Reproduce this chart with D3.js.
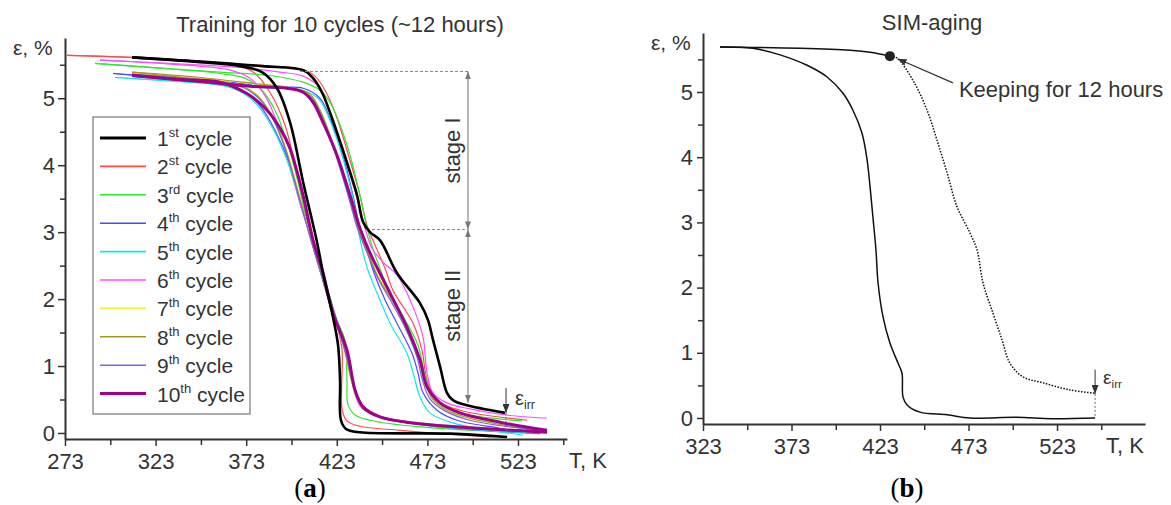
<!DOCTYPE html>
<html><head><meta charset="utf-8">
<script src="https://cdn.jsdelivr.net/npm/d3@7"></script>
<style>
body{margin:0;background:#fff}
svg{display:block}
text{font-family:"Liberation Sans",Arial,sans-serif;fill:#333}
</style>
</head><body>
<svg id="c" width="1171" height="505"></svg>
<script>
// ---------------- DATA: panel (a) ----------------
const cycleNums = ["1","2","3","4","5","6","7","8","9","10"];
const cycleSups = ["st","st","rd","th","th","th","th","th","th","th"];
const cycleColors = ["#000000","#ff4a4a","#2ee82e","#4a4aff","#18e6e6","#ff4dff","#f2f230","#a39a1e","#6c6cd6","#a0008c"];
const cycleWidths = [2.6,1.2,1.2,1.2,1.2,1.2,1.2,1.2,1.2,3];

const aXMajor = [273,323,373,423,473,523];
const aXMinor = [298,348,398,448,498,548];
const aYMajor = [0,1,2,3,4,5];
const aYMinor = [0.5,1.5,2.5,3.5,4.5,5.5];

const c1Left = [[310.0,5.61],[347.5,5.54],[369.6,5.48],[381.7,5.39],[390.0,5.15],[397.2,4.64],[404.4,3.75],[412.1,2.85],[415.4,2.39],[420.9,1.73],[423.7,1.31],[424.8,0.79],[425.3,0.19],[428.1,0.06],[435.8,0.01],[485.5,-0.01],[517.0,-0.06]];
const c1Right = [[310.0,5.61],[347.5,5.55],[381.7,5.48],[404.4,5.42],[409.9,5.30],[414.8,5.09],[419.2,4.79],[428.6,4.04],[434.2,3.55],[437.5,3.15],[441.3,3.00],[446.8,2.88],[456.2,2.39],[468.9,1.94],[473.3,1.69],[476.1,1.39],[480.0,0.99],[483.8,0.60],[487.1,0.49],[493.8,0.42],[515.8,0.30]];
const c2Left = [[274.1,5.64],[308.9,5.61],[347.5,5.55],[369.6,5.48],[377.9,5.37],[386.1,5.09],[394.4,4.60],[401.6,3.78],[408.2,2.96],[413.7,2.43],[419.2,1.91],[423.7,1.54],[425.9,1.24],[426.0,0.34],[428.6,0.18],[435.8,0.10],[457.9,0.04],[507.5,-0.06]];
const c2Right = [[274.1,5.64],[308.9,5.61],[347.5,5.55],[381.7,5.49],[404.4,5.43],[411.0,5.33],[416.5,5.12],[422.0,4.79],[430.3,4.07],[435.8,3.55],[439.7,3.10],[444.1,2.81],[449.6,2.46],[454.0,2.13],[460.7,1.84],[465.1,1.64],[470.0,1.24],[472.8,0.79],[478.3,0.49],[491.0,0.34],[528.0,0.19]];
const c3Left = [[289.6,5.52],[325.4,5.45],[358.5,5.37],[372.3,5.30],[381.7,5.12],[388.9,4.82],[396.1,4.30],[402.7,3.63],[409.3,2.88],[416.5,2.28],[423.1,1.69],[427.5,1.39],[428.6,0.79],[429.2,0.42],[433.1,0.27],[441.3,0.19],[468.9,0.09],[529.6,0.00]];
const c3Right = [[289.6,5.52],[325.4,5.45],[358.5,5.39],[386.1,5.34],[404.4,5.24],[413.7,5.12],[419.2,4.94],[424.8,4.60],[430.3,4.15],[435.8,3.55],[439.7,3.06],[444.1,2.66],[452.4,2.09],[460.7,1.69],[467.8,1.31],[471.7,0.87],[475.5,0.57],[485.5,0.34],[525.2,0.18]];
const c4Left = [[299.5,5.37],[336.5,5.28],[361.3,5.21],[372.3,5.09],[381.7,4.85],[388.9,4.52],[397.2,4.00],[403.8,3.40],[409.9,2.88],[416.5,2.28],[422.0,1.76],[427.5,1.31],[431.4,0.87],[434.2,0.57],[438.6,0.37],[449.6,0.22],[480.0,0.09],[535.1,-0.01]];
const c4Right = [[299.5,5.37],[336.5,5.30],[369.6,5.22],[386.1,5.16],[404.4,5.15],[413.7,5.00],[419.2,4.70],[426.4,4.15],[431.9,3.55],[435.8,3.06],[439.7,2.73],[443.0,2.43],[449.6,1.99],[456.2,1.64],[464.5,1.19],[467.8,0.90],[470.6,0.60],[478.3,0.34],[489.3,0.19],[513.1,0.07],[529.6,0.00]];
const c5Left = [[300.6,5.31],[336.5,5.25],[361.3,5.18],[372.3,5.06],[380.6,4.85],[388.3,4.52],[396.1,4.03],[402.7,3.43],[409.3,2.88],[415.9,2.28],[421.5,1.76],[427.0,1.31],[430.8,0.87],[433.6,0.57],[438.0,0.37],[449.6,0.22],[480.0,0.09],[535.1,0.00]];
const c5Right = [[300.6,5.31],[336.5,5.25],[369.6,5.19],[386.1,5.15],[404.4,5.12],[413.7,4.97],[419.2,4.67],[426.4,4.10],[431.9,3.51],[434.7,3.06],[436.9,2.76],[440.2,2.43],[446.8,1.99],[452.4,1.64],[461.7,1.19],[465.1,0.90],[468.9,0.54],[474.4,0.30],[487.1,0.15],[507.5,0.04],[525.8,-0.03]];
const c6Left = [[292.3,5.57],[331.0,5.51],[364.1,5.42],[375.1,5.30],[383.4,5.04],[390.6,4.60],[397.2,4.00],[403.8,3.33],[409.9,2.81],[416.5,2.21],[422.0,1.76],[426.4,1.39],[430.3,0.94],[433.1,0.57],[436.9,0.37],[446.8,0.25],[474.4,0.13],[539.0,0.01]];
const c6Right = [[292.3,5.57],[331.0,5.52],[369.6,5.46],[391.7,5.39],[404.4,5.33],[413.7,5.15],[420.9,4.64],[428.6,4.00],[434.2,3.51],[438.6,3.06],[442.4,2.76],[448.5,2.55],[456.2,2.36],[465.1,1.88],[470.6,1.43],[472.8,0.90],[476.1,0.60],[483.8,0.45],[496.5,0.36],[515.8,0.27],[539.0,0.22]];
const c7Left = [[310.0,5.37],[347.5,5.28],[369.6,5.19],[379.5,5.04],[387.2,4.75],[394.4,4.30],[401.6,3.63],[408.2,2.96],[414.8,2.36],[420.9,1.79],[426.4,1.31],[430.3,0.87],[433.6,0.54],[438.0,0.36],[449.6,0.22],[480.0,0.12],[537.9,0.01]];
const c7Right = [[310.0,5.37],[347.5,5.30],[380.6,5.21],[397.2,5.15],[408.2,5.04],[414.8,4.75],[422.0,4.22],[429.2,3.58],[434.7,3.06],[440.2,2.70],[445.7,2.36],[454.0,1.99],[460.7,1.64],[467.3,1.24],[471.1,0.87],[474.4,0.57],[482.7,0.37],[496.5,0.22],[535.1,0.04]];
const c8Left = [[310.0,5.39],[347.5,5.28],[369.6,5.19],[379.5,5.03],[387.2,4.73],[394.4,4.27],[401.6,3.60],[408.2,2.94],[414.8,2.34],[420.9,1.78],[427.0,1.28],[430.8,0.82],[434.2,0.52],[438.6,0.34],[449.6,0.21],[480.0,0.10],[537.9,0.01]];
const c8Right = [[310.0,5.39],[347.5,5.31],[380.6,5.21],[397.2,5.16],[408.2,5.06],[414.8,4.76],[422.0,4.22],[429.2,3.58],[434.7,3.06],[440.2,2.69],[445.7,2.33],[454.0,1.96],[461.2,1.58],[467.8,1.16],[471.7,0.79],[475.5,0.52],[483.8,0.34],[496.5,0.22],[535.1,0.03]];
const c9Left = [[310.0,5.36],[347.5,5.27],[369.6,5.18],[379.5,5.01],[387.2,4.72],[394.4,4.25],[401.6,3.58],[408.2,2.93],[414.8,2.33],[420.9,1.78],[427.0,1.27],[431.4,0.79],[434.2,0.51],[438.6,0.34],[449.6,0.21],[480.0,0.10],[539.0,0.01]];
const c9Right = [[310.0,5.36],[347.5,5.27],[380.6,5.18],[397.2,5.15],[408.2,5.03],[414.8,4.72],[422.0,4.19],[429.2,3.55],[434.7,3.03],[440.2,2.66],[445.7,2.31],[453.5,1.94],[460.7,1.57],[467.3,1.13],[470.6,0.76],[474.4,0.51],[482.7,0.33],[496.5,0.19],[537.9,0.03]];
const c10Left = [[310.0,5.34],[336.5,5.28],[358.5,5.24],[373.4,5.07],[384.5,4.82],[391.7,4.55],[397.2,4.25],[404.4,3.55],[409.9,2.88],[415.4,2.39],[420.9,1.79],[428.6,1.24],[433.1,0.64],[437.5,0.39],[446.8,0.24],[465.1,0.15],[491.0,0.09],[539.0,0.01]];
const c10Right = [[310.0,5.34],[347.5,5.25],[375.1,5.18],[395.5,5.15],[404.4,5.09],[409.9,4.94],[415.4,4.64],[423.1,4.15],[430.3,3.55],[435.8,3.06],[441.3,2.69],[452.4,2.09],[461.7,1.58],[468.9,1.09],[472.8,0.69],[480.0,0.45],[491.0,0.30],[513.1,0.16],[539.0,0.04]];

// stage annotation values (panel a)
const stageT = 495.4;
const stageLevels = [5.40, 3.04, 0.45];
const stageDashStartT = [402.7, 442.4];
const aIrrT = 516.4;
const aIrrLevels = [0.67, 0.30, 0.0];

// ---------------- DATA: panel (b) ----------------
const bXMajor = [323,373,423,473,523];
const bXMinor = [348,398,448,498,548];
const bYMajor = [0,1,2,3,4,5];
const bYMinor = [0.5,1.5,2.5,3.5,4.5,5.5];
const bSolidMain = [[332.6,5.69],[351.2,5.67],[366.5,5.57],[381.8,5.41],[393.1,5.23],[402.1,4.98],[407.7,4.72],[412.8,4.37],[415.7,3.96],[417.4,3.54],[419.0,3.08],[420.7,2.58],[421.9,2.07],[424.7,1.55],[428.6,1.15],[433.2,0.84],[435.4,0.69],[436.0,0.32],[438.3,0.20],[445.6,0.09],[460.9,0.05],[473.8,0.0],[500.0,0.01],[520.0,-0.01],[544.5,0.0]];
const bSolidUpper = [[332.6,5.69],[377.8,5.67],[406.1,5.64],[417.4,5.61],[428.6,5.55]];
const bDotted = [[428.6,5.55],[432.6,5.52],[441.6,5.18],[449.6,4.72],[455.2,4.26],[460.9,3.76],[466.5,3.24],[473.8,2.84],[477.8,2.58],[481.2,2.07],[486.8,1.61],[491.9,1.20],[496.4,0.84],[503.8,0.63],[515.1,0.54],[530.3,0.43],[544.5,0.38]];
const bDot = [428.6, 5.55];
const bKeepArrow = [[464.2,5.14],[432.9,5.51]];
const bIrrT = 544.5;
const bIrrLevels = [0.74, 0.37, 0.0];

// ---------------- DRAW ----------------
const svg = d3.select("#c");
const defs = svg.append("defs");
function marker(id, color, len, wid){
  defs.append("marker").attr("id",id).attr("viewBox","0 0 10 10")
    .attr("refX",10).attr("refY",5).attr("markerWidth",len).attr("markerHeight",wid)
    .attr("markerUnits","userSpaceOnUse").attr("orient","auto-start-reverse")
    .attr("preserveAspectRatio","none")
    .append("path").attr("d","M0,0L10,5L0,10Z").attr("fill",color);
}
marker("arG","#777",8,6);
marker("arK","#333",9,7);

const xa = d3.scaleLinear().domain([273,550]).range([65,566.9]);
const ya = d3.scaleLinear().domain([-0.09,5.9]).range([439,38]);
const xb = d3.scaleLinear().domain([323,572.7]).range([703,1145]);
const yb = d3.scaleLinear().domain([-0.092,5.905]).range([424,33]);

function axes(x, y, xMaj, xMin, yMaj, yMin, yTick, yPad){
  const gx = svg.append("g").attr("transform",`translate(0,${y.range()[0]})`)
    .call(d3.axisBottom(x).tickValues(xMaj).tickSizeInner(7).tickSizeOuter(0).tickPadding(7).tickFormat(d3.format("d")));
  svg.append("g").attr("transform",`translate(0,${y.range()[0]})`)
    .call(d3.axisBottom(x).tickValues(xMin).tickSize(6).tickFormat(""))
    .call(g=>g.select(".domain").remove());
  const gy = svg.append("g").attr("transform",`translate(${x.range()[0]},0)`)
    .call(d3.axisLeft(y).tickValues(yMaj).tickSizeInner(yTick).tickSizeOuter(0).tickPadding(yPad).tickFormat(d3.format("d")));
  svg.append("g").attr("transform",`translate(${x.range()[0]},0)`)
    .call(d3.axisLeft(y).tickValues(yMin).tickSize(5).tickFormat(""))
    .call(g=>g.select(".domain").remove());
  svg.selectAll(".tick line").attr("stroke","#333").attr("stroke-width",1.5);
  [gx,gy].forEach(g=>{
    g.select(".domain").attr("stroke","#333").attr("stroke-width",2);
    g.selectAll("text").attr("font-size",22).attr("font-family","'Liberation Sans',Arial,sans-serif").attr("fill","#333");
  });
}
axes(xa, ya, aXMajor, aXMinor, aYMajor, aYMinor, 7, 3);
axes(xb, yb, bXMajor, bXMinor, bYMajor, bYMinor, 6, 4);

// axis titles
svg.append("text").attr("x",13).attr("y",55).attr("font-size",21).text("ε, %");
svg.append("text").attr("x",569).attr("y",468).attr("font-size",22).text("T, K");
svg.append("text").attr("x",651).attr("y",50).attr("font-size",21).text("ε, %");
svg.append("text").attr("x",1106).attr("y",453).attr("font-size",22).text("T, K");

// titles
svg.append("text").attr("x",340).attr("y",32).attr("text-anchor","middle").attr("font-size",22).text("Training for 10 cycles (~12 hours)");
svg.append("text").attr("x",932).attr("y",30).attr("text-anchor","middle").attr("font-size",22).text("SIM-aging");

// panel labels
function panelLabel(x, letter){
  const t = svg.append("text").attr("x",x).attr("y",497).attr("text-anchor","middle")
    .attr("font-size",27).style("font-family","'Liberation Serif','Times New Roman',serif").style("fill","#000");
  t.append("tspan").text("(");
  t.append("tspan").attr("font-weight","bold").text(letter);
  t.append("tspan").text(")");
}
panelLabel(310,"a");
panelLabel(907,"b");

// ---- panel (a) curves ----
const lineA = d3.line().x(d=>xa(d[0])).y(d=>ya(d[1])).curve(d3.curveCatmullRom.alpha(0.5));
const leftSets = [c1Left,c2Left,c3Left,c4Left,c5Left,c6Left,c7Left,c8Left,c9Left,c10Left];
const rightSets = [c1Right,c2Right,c3Right,c4Right,c5Right,c6Right,c7Right,c8Right,c9Right,c10Right];
const cycles = cycleNums.map((n,i)=>({num:n, sup:cycleSups[i], color:cycleColors[i], width:cycleWidths[i], left:leftSets[i], right:rightSets[i]}));
const drawOrder = [1,2,3,4,5,6,7,8,9,0];
const gCurves = svg.append("g");
drawOrder.forEach(i=>{
  const c = cycles[i];
  [c.left, c.right].forEach(s=>{
    gCurves.append("path").attr("d",lineA(s)).attr("fill","none")
      .attr("stroke",c.color).attr("stroke-width",c.width).attr("stroke-linejoin","round");
  });
});

// stage annotations
const sx = xa(stageT);
stageDashStartT.forEach((t,i)=>{
  svg.append("line").attr("x1",xa(t)).attr("x2",sx).attr("y1",ya(stageLevels[i])).attr("y2",ya(stageLevels[i]))
    .attr("stroke","#888").attr("stroke-width",1).attr("stroke-dasharray","3,2");
});
for(let i=0;i<2;i++){
  svg.append("line").attr("x1",sx).attr("x2",sx).attr("y1",ya(stageLevels[i])).attr("y2",ya(stageLevels[i+1]))
    .attr("stroke","#888").attr("stroke-width",1.2)
    .attr("marker-start","url(#arG)").attr("marker-end","url(#arG)");
}
svg.append("text").attr("transform",`translate(${sx-8},${(ya(stageLevels[0])+ya(stageLevels[1]))/2}) rotate(-90)`)
  .attr("text-anchor","middle").attr("font-size",22).text("stage I");
svg.append("text").attr("transform",`translate(${sx-8},${ya(1.9)}) rotate(-90)`)
  .attr("text-anchor","middle").attr("font-size",22).text("stage II");

// epsilon irr (a)
const ax = xa(aIrrT);
svg.append("line").attr("x1",ax).attr("x2",ax).attr("y1",ya(aIrrLevels[0])).attr("y2",ya(aIrrLevels[1]))
  .attr("stroke","#333").attr("stroke-width",1).attr("marker-end","url(#arK)");
svg.append("line").attr("x1",ax).attr("x2",ax).attr("y1",ya(aIrrLevels[1])).attr("y2",ya(aIrrLevels[2]))
  .attr("stroke","#666").attr("stroke-width",1).attr("stroke-dasharray","2,2");
function epsIrr(x, y, fs){
  const t = svg.append("text").attr("x",x).attr("y",y).attr("font-size",fs);
  t.append("tspan").text("ε");
  t.append("tspan").attr("font-size",fs*0.62).attr("dy",4).text("irr");
}
epsIrr(ax+9, ya(aIrrLevels[0])+17, 20);

// legend
const leg = svg.append("g");
leg.append("rect").attr("x",93).attr("y",117).attr("width",157).attr("height",297)
  .attr("fill","#fff").attr("stroke","#777").attr("stroke-width",1.2);
cycles.forEach((c,i)=>{
  const cy = 138 + i*28.4;
  leg.append("line").attr("x1",100).attr("x2",146).attr("y1",cy).attr("y2",cy)
    .attr("stroke",c.color).attr("stroke-width",c.width===1.2?1.6:3);
  const t = leg.append("text").attr("x",157).attr("y",cy+8).attr("font-size",21);
  t.append("tspan").text(c.num);
  t.append("tspan").attr("font-size",13).attr("dy",-9).text(c.sup);
  t.append("tspan").attr("dy",9).text(" cycle");
});

// ---- panel (b) ----
const lineB = d3.line().x(d=>xb(d[0])).y(d=>yb(d[1])).curve(d3.curveCatmullRom.alpha(0.5));
svg.append("path").attr("d",lineB(bSolidMain)).attr("fill","none").attr("stroke","#111").attr("stroke-width",1.5);
svg.append("path").attr("d",lineB(bSolidUpper)).attr("fill","none").attr("stroke","#111").attr("stroke-width",1.5);
svg.append("path").attr("d",lineB(bDotted)).attr("fill","none").attr("stroke","#111").attr("stroke-width",1.5).attr("stroke-dasharray","1.5,1.5");
svg.append("circle").attr("cx",xb(bDot[0])).attr("cy",yb(bDot[1])).attr("r",5).attr("fill","#222");
svg.append("line").attr("x1",xb(bKeepArrow[0][0])).attr("y1",yb(bKeepArrow[0][1]))
  .attr("x2",xb(bKeepArrow[1][0])).attr("y2",yb(bKeepArrow[1][1]))
  .attr("stroke","#333").attr("stroke-width",1.3).attr("marker-end","url(#arK)");
svg.append("text").attr("x",xb(bKeepArrow[0][0])+6).attr("y",97).attr("font-size",22).text("Keeping for 12 hours");

const bx = xb(bIrrT);
svg.append("line").attr("x1",bx).attr("x2",bx).attr("y1",yb(bIrrLevels[0])).attr("y2",yb(bIrrLevels[1]))
  .attr("stroke","#333").attr("stroke-width",1).attr("marker-end","url(#arK)");
svg.append("line").attr("x1",bx).attr("x2",bx).attr("y1",yb(bIrrLevels[1])).attr("y2",yb(bIrrLevels[2]))
  .attr("stroke","#666").attr("stroke-width",1).attr("stroke-dasharray","2,2");
epsIrr(bx+8, yb(bIrrLevels[0])+14, 19);
</script>
</body></html>
